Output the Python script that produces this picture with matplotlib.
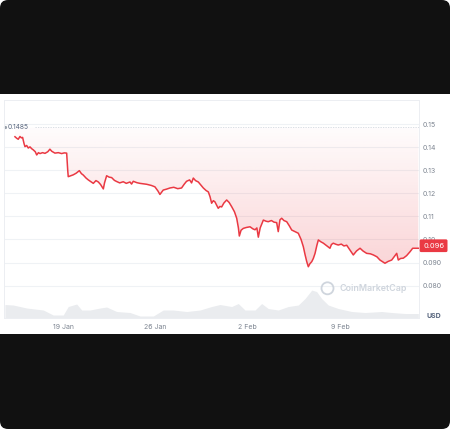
import numpy as np
import pandas as pd
import matplotlib
matplotlib.use('Agg')
import matplotlib.pyplot as plt
import matplotlib.transforms as mtransforms
import matplotlib.dates as mdates
from matplotlib.patches import FancyBboxPatch, Rectangle, Circle

# ------------------------------------------
# DATA (days counted from 19 Jan)
start_day = pd.Timestamp('2025-01-19')

price_days = [
    -3.64, -3.50, -3.39, -3.26, -3.15, -3.06, -2.95, -2.88, -2.75, -2.63,
    -2.50, -2.37, -2.25, -2.10, -1.99, -1.86, -1.74, -1.55, -1.36, -1.15,
    -0.99, -0.85, -0.61, -0.35, -0.10, 0.10, 0.28, 0.36, 0.40, 0.60,
    0.78, 1.00, 1.24, 1.40, 1.54, 1.75, 1.92, 2.10, 2.30, 2.50,
    2.68, 2.85, 3.06, 3.15, 3.31, 3.50, 3.69, 3.90, 4.07, 4.30,
    4.57, 4.80, 5.08, 5.20, 5.33, 5.60, 5.84, 6.10, 6.35, 6.70,
    6.97, 7.20, 7.35, 7.60, 7.85, 8.11, 8.40, 8.70, 8.99, 9.20,
    9.37, 9.60, 9.75, 9.88, 10.05, 10.26, 10.45, 10.64, 10.85, 11.02,
    11.15, 11.27, 11.40, 11.52, 11.65, 11.77, 11.90, 12.03, 12.20, 12.41,
    12.60, 12.79, 13.00, 13.17, 13.30, 13.37, 13.50, 13.67, 13.90, 14.18,
    14.40, 14.56, 14.70, 14.81, 14.95, 15.19, 15.40, 15.56, 15.80, 16.00,
    16.20, 16.32, 16.45, 16.58, 16.75, 16.96, 17.15, 17.34, 17.55, 17.84,
    18.05, 18.22, 18.35, 18.48, 18.60, 18.72, 18.86, 18.98, 19.11, 19.25,
    19.36, 19.55, 19.74, 19.95, 20.24, 20.35, 20.49, 20.70, 20.87, 21.10,
    21.30, 21.51, 21.75, 22.01, 22.25, 22.52, 22.75, 23.02, 23.30, 23.53,
    23.80, 24.03, 24.25, 24.41, 24.65, 24.92, 25.10, 25.30, 25.42, 25.60,
    25.80, 26.05, 26.31, 26.51, 26.94,
]
prices = [
    0.1445, 0.1438, 0.1434, 0.1446, 0.1440, 0.1442, 0.1415, 0.1402, 0.1407, 0.1396,
    0.1401, 0.1393, 0.1388, 0.1380, 0.1366, 0.1376, 0.1372, 0.1376, 0.1373, 0.1380,
    0.1391, 0.1382, 0.1374, 0.1376, 0.1372, 0.1375, 0.1374, 0.1300, 0.1272, 0.1276,
    0.1280, 0.1287, 0.1298, 0.1285, 0.1279, 0.1266, 0.1258, 0.1251, 0.1243, 0.1255,
    0.1249, 0.1238, 0.1219, 0.1245, 0.1276, 0.1270, 0.1268, 0.1256, 0.1251, 0.1245,
    0.1250, 0.1243, 0.1249, 0.1240, 0.1252, 0.1246, 0.1243, 0.1241, 0.1239, 0.1234,
    0.1228, 0.1210, 0.1195, 0.1214, 0.1218, 0.1223, 0.1226, 0.1220, 0.1223, 0.1240,
    0.1252, 0.1258, 0.1245, 0.1266, 0.1255, 0.1249, 0.1236, 0.1223, 0.1212, 0.1206,
    0.1185, 0.1157, 0.1168, 0.1163, 0.1148, 0.1135, 0.1143, 0.1141, 0.1158, 0.1171,
    0.1160, 0.1142, 0.1120, 0.1092, 0.1050, 0.1015, 0.1040, 0.1048, 0.1052, 0.1055,
    0.1046, 0.1042, 0.1050, 0.1010, 0.1050, 0.1084, 0.1079, 0.1077, 0.1082, 0.1075,
    0.1073, 0.1034, 0.1085, 0.1092, 0.1082, 0.1077, 0.1060, 0.1041, 0.1035, 0.1027,
    0.1000, 0.0969, 0.0935, 0.0904, 0.0882, 0.0895, 0.0904, 0.0918, 0.0940, 0.0975,
    0.0998, 0.0990, 0.0984, 0.0975, 0.0962, 0.0978, 0.0984, 0.0979, 0.0976, 0.0980,
    0.0972, 0.0975, 0.0955, 0.0933, 0.0950, 0.0962, 0.0950, 0.0940, 0.0938, 0.0933,
    0.0925, 0.0911, 0.0903, 0.0897, 0.0905, 0.0911, 0.0925, 0.0940, 0.0911, 0.0918,
    0.0919, 0.0930, 0.0947, 0.0962, 0.0962,
]

vol_days = [
    -4.40, -3.77, -2.75, -1.49, -0.74, 0.02, 0.40, 1.04, 1.42, 2.05,
    2.81, 3.31, 4.07, 5.08, 5.84, 6.85, 7.60, 8.36, 9.38, 10.39,
    11.27, 11.90, 12.79, 13.29, 13.80, 14.56, 15.06, 15.56, 16.32, 17.08,
    17.84, 18.35, 18.86, 19.23, 19.61, 20.11, 20.87, 21.89, 22.90, 24.16,
    24.92, 25.93, 26.94,
]
volumes = [  # millions USD
    27, 26, 20, 16, 6, 6, 23, 28, 16, 16,
    20, 22, 13, 11, 4, 4, 16, 16, 13, 16,
    23, 27, 23, 29, 16, 16, 29, 19, 16, 23,
    26, 39, 56, 53, 39, 26, 19, 13, 11, 13,
    11, 9, 9,
]

open_price = 0.1485
open_label = '0.1485'
last_label = '0.096'
y_ticks = [0.08, 0.09, 0.10, 0.11, 0.12, 0.13, 0.14, 0.15]
y_tick_labels = ['0.080', '0.090', '0.10', '0.11', '0.12', '0.13', '0.14', '0.15']
x_tick_days = [0, 7, 14, 21]
x_tick_labels = ['19 Jan', '26 Jan', '2 Feb', '9 Feb']

red = '#ea3943'
grey_text = '#7d8591'

plt.rcParams['font.family'] = ['Inter', 'DejaVu Sans']

price_dates = start_day + pd.to_timedelta(price_days, unit='D')
vol_dates = start_day + pd.to_timedelta(vol_days, unit='D')
x_min = start_day + pd.Timedelta(days=-4.47)
x_max = start_day + pd.Timedelta(days=26.99)

# ------------------------------------------
# FIGURE + BACKGROUND FRAME
W, H = 450, 429
fig = plt.figure(figsize=(W / 100, H / 100), dpi=100)
fig.patch.set_facecolor('white')
frame = FancyBboxPatch((0, 0), W / 100, H / 100,
                       boxstyle='round,pad=0,rounding_size=0.08',
                       transform=fig.dpi_scale_trans, facecolor='#111111',
                       edgecolor='none', zorder=-3)
fig.add_artist(frame)
panel = Rectangle((0, 1 - 334 / H), 1, 240 / H, transform=fig.transFigure,
                  facecolor='white', edgecolor='none', zorder=-2)
fig.add_artist(panel)

ax_pos = [4 / W, 1 - 318 / H, 415 / W, 218 / H]

# volume underneath
vax = fig.add_axes(ax_pos, zorder=0)
vax.fill_between(vol_dates, volumes, 0, color='#eaecef', lw=0)
vax.set_xlim(x_min, x_max)
vax.set_ylim(0, max(volumes) * 7.8)
vax.axis('off')

# price on top
ax = fig.add_axes(ax_pos, zorder=1)
ax.set_facecolor('none')

poly = ax.fill_between(price_dates, prices, open_price, facecolor='none',
                       edgecolor='none')
grad = np.zeros((256, 1, 4))
grad[..., :3] = matplotlib.colors.to_rgb(red)
grad[:, 0, 3] = np.linspace(0.22, 0.015, 256)
x0n, x1n = mdates.date2num(x_min), mdates.date2num(x_max)
im = ax.imshow(grad, extent=[x0n, x1n, 0.087, open_price], aspect='auto',
               origin='lower', zorder=1)
im.set_clip_path(poly.get_paths()[0], transform=ax.transData)

ax.plot(price_dates, prices, color=red, lw=1.1, zorder=3,
        solid_joinstyle='round')

ax.axhline(open_price, xmin=0.075, color='#d3d8e0', lw=0.6,
           ls=(0, (1.5, 1.5)), zorder=2)
blend = mtransforms.blended_transform_factory(ax.transAxes, ax.transData)
ax.plot([0.003], [open_price], marker='o', ms=1.3, color='#9aa1ab',
        transform=blend, clip_on=False)
ax.text(0.008, open_price, open_label, transform=blend, fontsize=4.8,
        color='#58667e', va='center', ha='left')

ax.set_xlim(x_min, x_max)
ax.set_ylim(0.066, 0.1604)
ax.set_yticks(y_ticks)
ax.set_yticklabels(y_tick_labels)
ax.yaxis.tick_right()
ax.set_xticks(start_day + pd.to_timedelta(x_tick_days, unit='D'))
ax.set_xticklabels(x_tick_labels)
ax.tick_params(axis='y', length=0, pad=2.6, labelsize=5, labelcolor=grey_text)
ax.tick_params(axis='x', length=0, pad=4.5, labelsize=5, labelcolor=grey_text)
ax.grid(axis='y', color='#eff2f5', lw=0.8)
ax.set_axisbelow(True)
for s in ax.spines.values():
    s.set_color('#eceef2')
    s.set_linewidth(0.7)

# last price tag
ax.text(1.0 + 4 / 415, prices[-1] + 0.0011, last_label, transform=blend,
        fontsize=5.4, color='white', va='center', ha='left', zorder=5,
        bbox=dict(boxstyle='round,pad=0.45,rounding_size=0.2', fc=red,
                  ec='none'), clip_on=False)

fig.text(434 / W, 1 - 316 / H, 'USD', ha='center', va='center', fontsize=5,
         color='#58667e', fontweight='bold')

# watermark
wm = '#cfd5dd'
fig.add_artist(Circle((327.5 / 100, (H - 288.3) / 100), 0.06, fill=False,
                      ec=wm, lw=1.3, transform=fig.dpi_scale_trans, zorder=3))
fig.text(340 / W, 1 - 288.5 / H, 'CoinMarketCap', ha='left', va='center',
         fontsize=6.4, color=wm, fontweight='semibold')

fig.savefig('out.png', dpi=100)
